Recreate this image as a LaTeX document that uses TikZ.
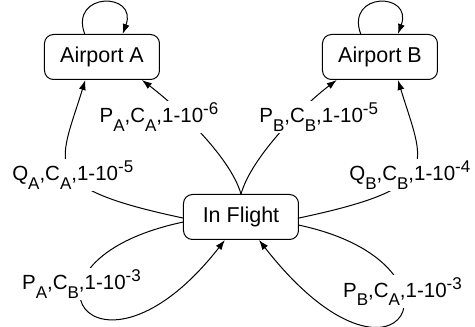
\documentclass[tikz,border=0pt]{standalone}
\usepackage{fontspec}
\setmainfont{Liberation Sans}
\usetikzlibrary{arrows.meta,positioning}
\tikzset{arrows={-{Latex[length=10pt,width=7pt]}}}
\tikzset{
  place/.style={draw, rounded corners=9pt, minimum width=115pt, minimum height=45pt},
  prob/.style={fill=white, inner sep=2pt, font=\fontsize{20.5}{24}\selectfont}
}
\newcommand{\subtx}[1]{\raisebox{-8.5pt}{\fontsize{17}{17}\selectfont #1}}
\newcommand{\suptx}[1]{\raisebox{8pt}{\fontsize{17}{17}\selectfont #1}}
\newcommand{\tlabel}[4]{#1\subtx{#2},C\subtx{#3},1-10\suptx{-#4}}

\begin{document}
\begin{tikzpicture}[line width=1pt, font=\fontsize{21.5}{25}\selectfont]
    \useasboundingbox (-241pt,-110pt) rectangle (234pt,217pt);
    \node[place] (flight) {In Flight};
    \node[place] (airA) [above left=114pt and 23pt of flight] {Airport A};
    \node[place] (airB) [above right=114pt and 23pt of flight] {Airport B};
    \path (airA.127) edge [out=110, in=70, distance=45pt] (airA.48)
          (airB.130) edge [out=110, in=70, distance=45pt] (airB.52);

    % towards the airports
    \path (flight.181) edge [out=168, in=253, out distance=150pt, in distance=90pt]
              node[prob, pos=.45] {\tlabel{Q}{A}{A}{5}} (airA.234)
          (flight.north) edge [out=106, in=323, distance=40pt]
              node[prob, pos=.62, xshift=-26pt] {\tlabel{P}{A}{A}{6}} (airA.330)
          (flight.north) edge [out=74, in=217, distance=40pt]
              node[prob, pos=.62, xshift=24pt] {\tlabel{P}{B}{B}{5}} (airB.208)
          (flight.359) edge [out=12, in=287, out distance=150pt, in distance=90pt]
              node[prob, pos=.45] {\tlabel{Q}{B}{B}{4}} (airB.308);

    % staying in flight
    \path (flight.185) edge [out=192, in=232, out distance=190pt, in distance=210pt]
              node[prob, pos=.35] {\tlabel{P}{A}{B}{3}} (flight.235)
          (flight.352) edge [out=348, in=308, out distance=185pt, in distance=230pt]
              node[prob, pos=.36] {\tlabel{P}{B}{A}{3}} (flight.308);
\end{tikzpicture}
\end{document}
